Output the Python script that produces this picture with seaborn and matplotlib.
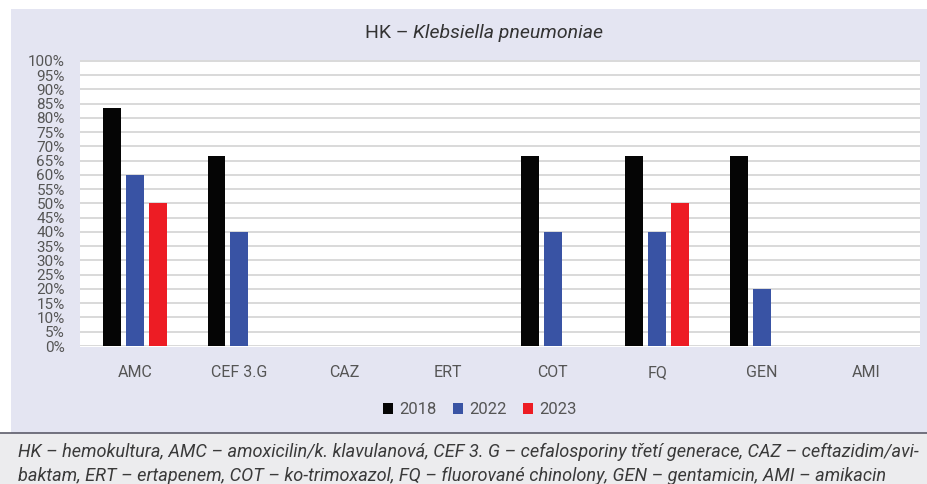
import matplotlib
matplotlib.use("Agg")
import matplotlib.pyplot as plt
import seaborn as sns
import pandas as pd
from matplotlib.patches import Rectangle, Patch
from matplotlib.lines import Line2D
from matplotlib.ticker import MultipleLocator, PercentFormatter

categories = ["AMC", "CEF 3.G", "CAZ", "ERT", "COT", "FQ", "GEN", "AMI"]
years = ["2018", "2022", "2023"]
v2018 = [83.3, 66.7, 0, 0, 66.7, 66.7, 66.7, 0]
v2022 = [60, 40, 0, 0, 40, 40, 20, 0]
v2023 = [50, 0, 0, 0, 0, 50, 0, 0]
colors = ["#050505", "#3953a4", "#ed1c24"]

title_plain = "HK – "
title_italic = "Klebsiella pneumoniae"
caption1 = ("HK – hemokultura, AMC – amoxicilin/k. klavulanová, CEF 3. G – cefalosporiny třetí generace, "
            "CAZ – ceftazidim/avi-")
caption2 = ("baktam, ERT – ertapenem, COT – ko-trimoxazol, FQ – fluorované chinolony, "
            "GEN – gentamicin, AMI – amikacin")

df = pd.DataFrame({
    "cat": categories * 3,
    "year": [years[0]] * 8 + [years[1]] * 8 + [years[2]] * 8,
    "val": v2018 + v2022 + v2023,
})

sns.set_theme(style="white")
plt.rcParams["font.family"] = ["Roboto", "DejaVu Sans"]

W, H = 928, 484
fig = plt.figure(figsize=(W / 100, H / 100), dpi=100)
fig.patch.set_facecolor("white")

def px(x0, y0, x1, y1):
    # pixel box (top-left origin) -> figure fraction rectangle
    return (x0 / W, 1 - y1 / H, (x1 - x0) / W, (y1 - y0) / H)

# background panels
l, b, w, h = px(11, 9, 928, 433)
fig.patches.append(Rectangle((l, b), w, h, transform=fig.transFigure,
                             facecolor="#e4e5f2", edgecolor="none", zorder=-10))
l, b, w, h = px(80, 60, 920, 347)
fig.patches.append(Rectangle((l, b), w, h, transform=fig.transFigure,
                             facecolor="white", edgecolor="none", zorder=-9))
l, b, w, h = px(0, 433, 928, 484)
fig.patches.append(Rectangle((l, b), w, h, transform=fig.transFigure,
                             facecolor="#ececee", edgecolor="none", zorder=-10))
fig.lines.append(Line2D([0, 1], [1 - 433 / H] * 2, transform=fig.transFigure,
                        color="#5c5c6a", lw=1.2, zorder=-5))

ax = fig.add_axes(px(80, 60, 920, 346))
ax.set_zorder(2)
ax.set_facecolor("white")
sns.barplot(data=df, x="cat", y="val", hue="year", order=categories,
            hue_order=years, palette=colors, saturation=1, width=0.66, gap=0.22,
            linewidth=0, legend=False, ax=ax)
ax.set_xlim(-0.527, 7.517)
ax.set_ylim(0, 100.3)
ax.yaxis.set_major_locator(MultipleLocator(5))
ax.yaxis.set_major_formatter(PercentFormatter(100, decimals=0))
ax.grid(axis="y", color="#d9d9d9", lw=1.4, zorder=0)
ax.set_axisbelow(True)
for s in ax.spines.values():
    s.set_visible(False)
ax.set_xlabel("")
ax.set_ylabel("")
ax.tick_params(axis="y", labelsize=11, colors="#555555", pad=11, length=0)
ax.tick_params(axis="x", labelsize=11.5, colors="#555555", pad=14, length=0)

# legend
handles = [Patch(facecolor=c, edgecolor="none") for c in colors]
fig.legend(handles, years, loc="center", bbox_to_anchor=(480 / W, 1 - 410 / H),
           ncol=3, frameon=False, fontsize=12, handlelength=0.6, handleheight=0.6,
           handletextpad=0.35, columnspacing=1.0, labelcolor="#555555")

# title with italic part
fig.canvas.draw()
r = fig.canvas.get_renderer()
t1 = fig.text(0, 1 - 33 / H, title_plain, fontsize=14, color="#333333", va="center")
t2 = fig.text(0, 1 - 33 / H, title_italic, fontsize=14, color="#333333", va="center",
              style="italic")
w1 = t1.get_window_extent(r).width
w2 = t2.get_window_extent(r).width
start = 484 - (w1 + w2) / 2
t1.set_x(start / W)
t2.set_x((start + w1) / W)

fig.text(18 / W, 1 - 452 / H, caption1, fontsize=13.1, style="italic",
         color="#3a3a3a", va="center")
fig.text(18 / W, 1 - 476 / H, caption2, fontsize=13.1, style="italic",
         color="#3a3a3a", va="center")

fig.savefig("out.png", dpi=100, facecolor=fig.get_facecolor())
